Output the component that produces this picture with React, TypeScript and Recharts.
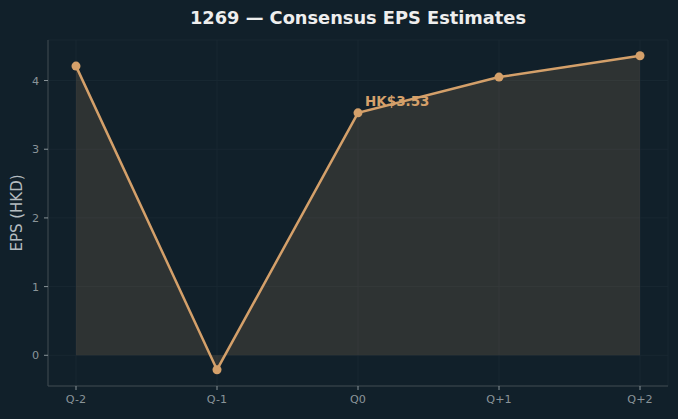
import { ComposedChart, Area, Line, XAxis, YAxis, CartesianGrid, ReferenceDot } from 'recharts';

const quarters = ['Q-2', 'Q-1', 'Q0', 'Q+1', 'Q+2'];
const epsValues = [4.21, -0.21, 3.53, 4.05, 4.36];
const yTicks = [0, 1, 2, 3, 4];
const currentQuarter = 'Q0';
const currentEps = 3.53;

const data = quarters.map((q, i) => ({ q, eps: epsValues[i] }));

const BG = '#11202a';
const ORANGE = '#d4a06a';
const FONT = '"DejaVu Sans", sans-serif';

const EpsLabel = (props: any) => {
  const { viewBox } = props;
  const cx = viewBox.x + viewBox.width / 2;
  const cy = viewBox.y + viewBox.height / 2;
  return (
    <text x={cx + 7} y={cy - 7} fill={ORANGE} fontSize={13.5} fontWeight={700} fontFamily={FONT}>
      HK${currentEps.toFixed(2)}
    </text>
  );
};

export default function App() {
  return (
    <div style={{ position: 'fixed', left: 0, top: 0, width: 678, height: 419, background: BG, fontFamily: FONT }}>
      <div style={{ position: 'absolute', left: 48, width: 620, top: 7, textAlign: 'center', color: '#eeeeee', fontSize: 17.8, fontWeight: 700 }}>
        1269 — Consensus EPS Estimates
      </div>
      <ComposedChart width={678} height={419} data={data} margin={{ top: 40, right: 10, bottom: 0, left: 0 }}>
        <CartesianGrid stroke="#1a2a33" strokeWidth={0.8} />
        <XAxis
          dataKey="q"
          scale="point"
          padding={{ left: 28, right: 28 }}
          height={33}
          tick={{ fontSize: 11.2, fill: '#8a9499', fontFamily: FONT }}
          tickSize={4}
          tickMargin={5}
          stroke="#3f4b51"
          tickLine={{ stroke: '#8a9499' }}
        />
        <YAxis
          type="number"
          domain={[-0.447, 4.59]}
          ticks={yTicks}
          allowDataOverflow
          width={48}
          tick={{ fontSize: 11.2, fill: '#8a9499', fontFamily: FONT }}
          tickSize={4}
          tickMargin={5}
          stroke="#3f4b51"
          tickLine={{ stroke: '#8a9499' }}
          label={{ value: 'EPS (HKD)', angle: -90, position: 'insideLeft', offset: 17, fill: '#b4bcc0', fontSize: 15, fontFamily: FONT, style: { textAnchor: 'middle' } }}
        />
        <Area
          type="linear"
          dataKey="eps"
          baseValue={0}
          fill={ORANGE}
          fillOpacity={0.15}
          stroke="none"
          isAnimationActive={false}
        />
        <Line
          type="linear"
          dataKey="eps"
          stroke={ORANGE}
          strokeWidth={2.5}
          dot={{ r: 4.5, fill: ORANGE, stroke: ORANGE, strokeWidth: 0 }}
          activeDot={false}
          isAnimationActive={false}
        />
        <ReferenceDot x={currentQuarter} y={currentEps} r={0} stroke="none" label={<EpsLabel />} />
      </ComposedChart>
    </div>
  );
}
